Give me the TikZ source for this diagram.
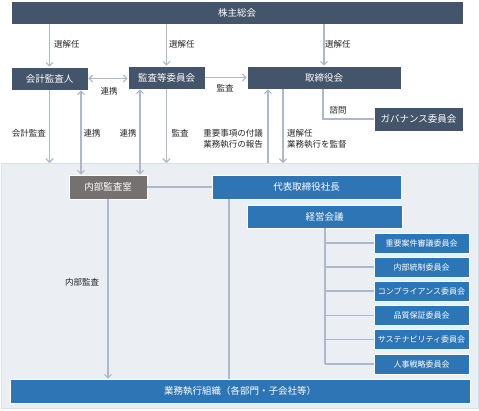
\documentclass[tikz,border=0pt]{standalone}
\usepackage{fontspec}
\setmainfont{Noto Sans CJK JP}
\usetikzlibrary{arrows.meta,calc}
\definecolor{slate}{HTML}{44546A}
\definecolor{bluebox}{HTML}{2E75B6}
\definecolor{greybox}{HTML}{767171}
\definecolor{bgc}{HTML}{EBEEF3}
\definecolor{bgline}{HTML}{DCE1E9}
\definecolor{lnc}{HTML}{ADB9CA}
\definecolor{txt}{HTML}{262626}
\begin{document}
\begin{tikzpicture}[x=1pt,y=-1pt,
  box/.style={draw=white,line width=0.6pt,text=white,inner sep=0pt,font=\fontsize{9.5}{11}\selectfont},
  dbox/.style={box,fill=slate},
  bbox/.style={box,fill=bluebox},
  gbox/.style={box,fill=greybox},
  combox/.style={bbox,minimum width=95pt,minimum height=20pt,font=\fontsize{8}{10}\selectfont},
  ln/.style={draw=lnc,line width=1.2pt},
  arr/.style={ln,-{Straight Barb[length=3.5pt,width=7pt]}},
  darr/.style={ln,{Straight Barb[length=3.5pt,width=7pt]}-{Straight Barb[length=3.5pt,width=7pt]}},
  lbl/.style={text=txt,font=\fontsize{8.5}{11}\selectfont,inner sep=0pt}
]
\useasboundingbox (0,0) rectangle (479,410);
\fill[white] (0,0) rectangle (479,410);
\filldraw[fill=bgc,draw=bgline,line width=0.8pt] (1,163) rectangle (478,408);

% boxes
\node[dbox,minimum width=452pt,minimum height=23pt] (sh) at (237,12.5) {株主総会};
\node[dbox,minimum width=77pt,minimum height=23pt] (kaikei) at (49.5,78.5) {会計監査人};
\node[dbox,minimum width=77pt,minimum height=23pt] (kansa) at (166.5,77.5) {監査等委員会};
\node[dbox,minimum width=154pt,minimum height=23pt] (tori) at (324,77.5) {取締役会};
\node[dbox,minimum width=89pt,minimum height=24pt] (gov) at (418.5,119) {ガバナンス委員会};
\node[gbox,minimum width=78pt,minimum height=24pt] (naibu) at (108,187) {内部監査室};
\node[bbox,minimum width=189pt,minimum height=24pt] (daihyo) at (306.5,187) {代表取締役社長};
\node[bbox,minimum width=155pt,minimum height=23pt] (keiei) at (324.5,216.5) {経営会議};
\node[combox] (c1) at (421.5,243) {重要案件審議委員会};
\node[combox] (c2) at (421.5,267) {内部統制委員会};
\node[combox] (c3) at (421.5,291) {コンプライアンス委員会};
\node[combox] (c4) at (421.5,315.5) {品質保証委員会};
\node[combox] (c5) at (421.5,339.5) {サステナビリティ委員会};
\node[combox] (c6) at (421.5,364) {人事戦略委員会};
\node[bbox,minimum width=460pt,minimum height=24pt] (gyomu) at (240,391) {業務執行組織（各部門・子会社等）};

% helper coordinates
\coordinate (bgtop) at (0,163);
\coordinate (x81) at (81,0);
\coordinate (x140) at (140,0);
\coordinate (x268) at (268,0);
\coordinate (x283) at (283,0);
\coordinate (x323) at (323,0);
\coordinate (x229) at (229,0);
\coordinate (x325) at (325,0);

% top arrows
\draw[arr] (kaikei.north |- sh.south) -- (kaikei.north);
\draw[arr] (kansa.north |- sh.south) -- (kansa.north);
\draw[arr] (tori.north |- sh.south) -- (tori.north);
\node[lbl,anchor=west] (l1) at (54,44) {選解任};
\node[lbl,anchor=west] (l2) at (169,44) {選解任};
\node[lbl,anchor=west] (l3) at (325,44) {選解任};

% row 2 connections
\draw[darr] (kaikei.east) -- (kaikei.east -| kansa.west);
\node[lbl] (l4) at (109,91) {連携};
\draw[arr] (kansa.east) -- (tori.west);
\node[lbl] (l5) at (225,88) {監査};
\draw[ln] (x323 |- tori.south) |- (gov.west);
\node[lbl] (l6) at (338,110) {諮問};

% middle verticals
\draw[arr] (kaikei.south) -- (kaikei.south |- bgtop);
\node[lbl] (l7) at (29,133) {会計監査};
\draw[darr] (x81 |- kaikei.south) -- (x81 |- naibu.north);
\node[lbl] (l8) at (92,133) {連携};
\draw[darr] (x140 |- kansa.south) -- (x140 |- naibu.north);
\node[lbl] (l9) at (128,133) {連携};
\draw[arr] (kansa.south) -- (kansa.south |- bgtop);
\node[lbl] (l10) at (180,133) {監査};
\draw[arr] (x268 |- bgtop) -- (x268 |- tori.south);
\node[lbl,anchor=east,align=left] (l11) at (263,138.5) {重要事項の付議\\業務執行の報告};
\draw[arr] (x283 |- tori.south) -- (x283 |- bgtop);
\node[lbl,anchor=west,align=left] (l12) at (287,138.5) {選解任\\業務執行を監督};

% lower part
\draw[ln] (naibu.east) -- (daihyo.west);
\draw[arr] (naibu.south) -- (naibu.south |- gyomu.north);
\node[lbl] (l13) at (82,282) {内部監査};
\draw[ln] (x229 |- daihyo.south) -- (x229 |- gyomu.north);
\draw[ln] (x325 |- keiei.south) -- (x325 |- c6.west);
\foreach \c in {c1,c2,c3,c4,c5,c6}{
  \draw[ln] (x325 |- \c.west) -- (\c.west);
}
\end{tikzpicture}
\end{document}
